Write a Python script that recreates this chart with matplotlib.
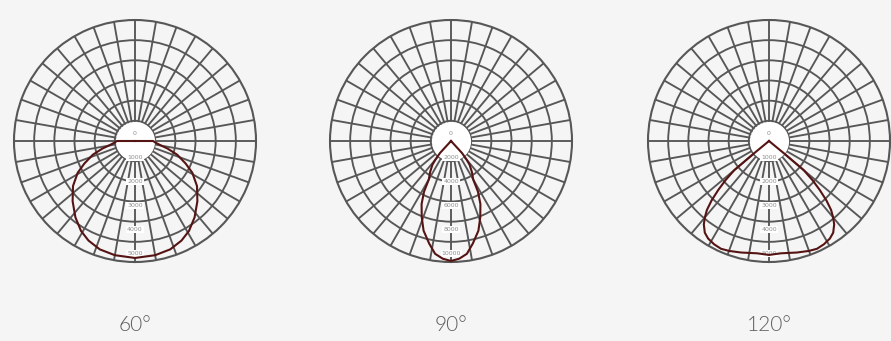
import numpy as np
import matplotlib
matplotlib.use("Agg")
import matplotlib.pyplot as plt

# ---- data ----
titles = ["60°", "90°", "120°"]
rmax_values = [6000, 12000, 6000]
ring_labels_1 = ["1000", "2000", "3000", "4000", "5000"]
ring_labels_2 = ["2000", "4000", "6000", "8000", "10000"]
ring_labels_3 = ["1000", "2000", "3000", "4000", "5000"]

angles_1 = [0, 10, 18, 25, 31, 38, 46, 54, 61, 66, 72, 77, 81, 86, 90, 180]
cd_1 = [5800, 5750, 5650, 5450, 5200, 4800, 4300, 3800, 3250, 2750, 2200, 1650, 1250, 1000, 900, 0]

angles_2 = [0, 4, 8, 12, 17, 21, 25, 28, 30, 34, 38, 40, 42.5, 45]
cd_2 = [11900, 11700, 11300, 10400, 9300, 8100, 6900, 5700, 4400, 3700, 3000, 2400, 1600, 0]

angles_3 = [0, 6, 14, 20, 24, 28, 32, 35, 38, 40, 42, 44, 46, 48, 50, 50.5, 51]
cd_3 = [5650, 5600, 5700, 5800, 5850, 5800, 5700, 5550, 5250, 4950, 4600, 4100, 3500, 2900, 2250, 1150, 0]

charts = [
    (angles_1, cd_1, ring_labels_1),
    (angles_2, cd_2, ring_labels_2),
    (angles_3, cd_3, ring_labels_3),
]

# ---- style ----
W, H = 891, 341
BG = "#f5f5f5"
GRID = "#575757"
CURVE = "#561313"
centers_x = [135, 451, 769]
center_y = 141
radius_px = 121
n_rings = 6

fig = plt.figure(figsize=(W / 100, H / 100), dpi=100, facecolor=BG)

for i, ((ang, cd, rlabels), rmax, title) in enumerate(zip(charts, rmax_values, titles)):
    cx = centers_x[i]
    rect = [(cx - radius_px) / W, (H - center_y - radius_px) / H,
            2 * radius_px / W, 2 * radius_px / H]
    ax = fig.add_axes(rect, projection="polar")
    ax.set_facecolor(BG)
    ax.set_theta_zero_location("S")
    ax.set_theta_direction(1)
    ax.set_ylim(0, rmax)
    step = rmax / n_rings
    ax.set_rgrids(np.arange(step, rmax, step), labels=[])
    ax.set_thetagrids(np.arange(0, 360, 10), labels=[])
    ax.set_axisbelow(True)
    ax.grid(True, color=GRID, lw=1.35)
    ax.spines["polar"].set_color(GRID)
    ax.spines["polar"].set_linewidth(1.5)
    ax.tick_params(length=0, pad=0)

    # white hub
    th = np.linspace(0, 2 * np.pi, 181)
    ax.fill_between(th, 0, 0.97 * step, color="white", zorder=2, lw=0)

    # ring value labels
    ax.text(np.pi, rmax * 0.065, "0", ha="center", va="center",
            fontsize=4.5, color="#8f8f8f", zorder=4)
    label_pos = [0.14, 0.335, 0.535, 0.73, 0.93]
    for k, lab in enumerate(rlabels):
        ax.text(0, rmax * label_pos[k], lab, ha="center", va="center",
                fontsize=4.5, color="#8f8f8f", zorder=4,
                bbox=dict(facecolor="white", edgecolor="none", pad=0.6))

    # intensity curve (symmetric)
    a = np.array(ang, dtype=float)
    v = np.array(cd, dtype=float)
    theta_full = np.deg2rad(np.concatenate([-a[::-1], a[1:]]))
    r_full = np.concatenate([v[::-1], v[1:]])
    ax.plot(theta_full, r_full, color=CURVE, lw=1.5, zorder=5, solid_joinstyle="round")

    fig.text(cx / W, (H - 325) / H, title, ha="center", va="center",
             fontsize=15, color="#5f5f5f", family="Lato", fontweight=300)

fig.savefig("out.png", dpi=100, facecolor=BG)
